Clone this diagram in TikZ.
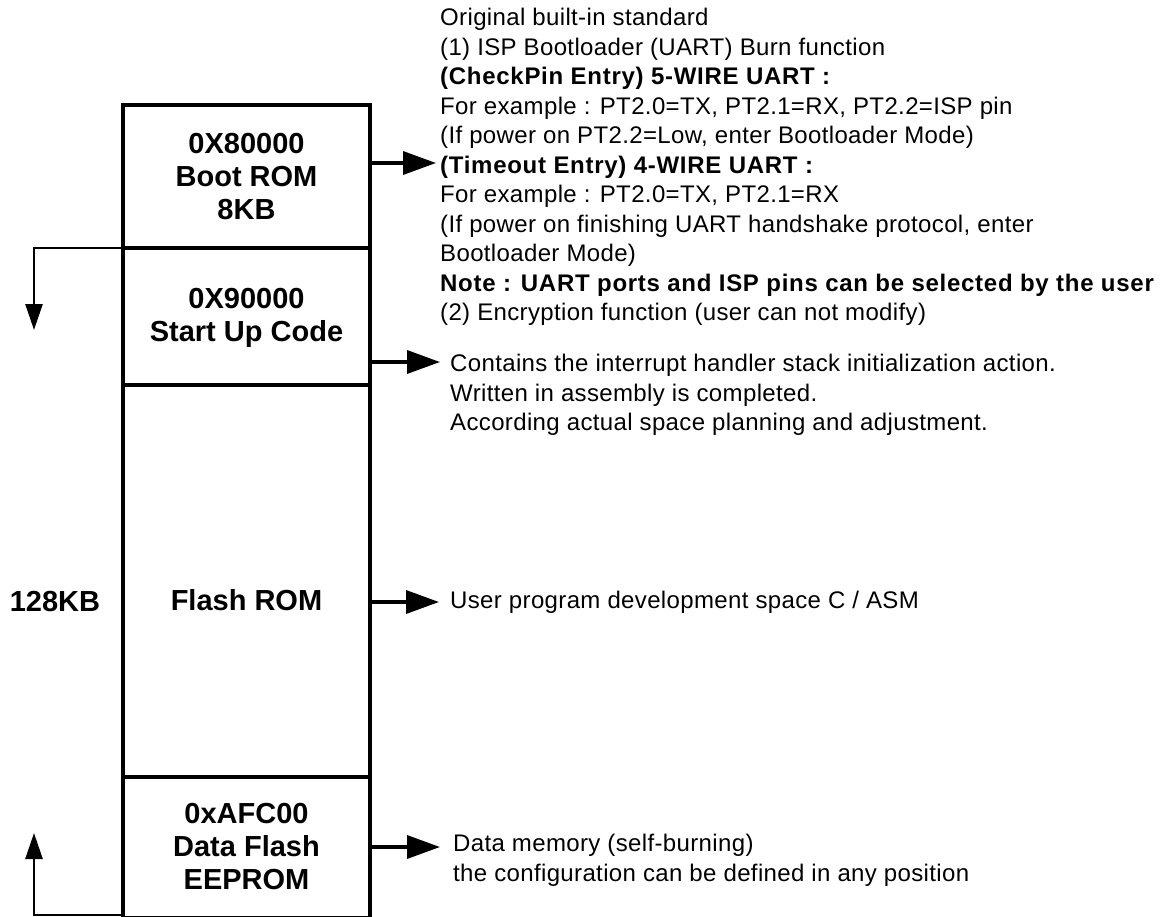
\documentclass[tikz,border=0pt]{standalone}
\usepackage{fontspec}
\setmainfont{Liberation Sans}
\usetikzlibrary{arrows.meta}
\newcommand{\keyline}[1]{{\bfseries\addfontfeature{LetterSpace=3}#1}}

\begin{document}
\begin{tikzpicture}[x=1pt,y=-1pt,
    seg/.style={draw,line width=3.5pt,minimum width=247pt,inner sep=0pt,outer sep=0pt},
    boxtxt/.style={font=\fontsize{29}{33}\selectfont\bfseries,align=center},
    note/.style={font=\fontsize{24}{29.5}\selectfont\addfontfeature{LetterSpace=1.5},align=left,inner sep=0pt},
    ptr/.style={line width=3.5pt,-{Triangle[length=33pt,width=23pt]}},
    back/.style={line width=2.6pt,-{Triangle[length=26pt,width=17pt]}}]
    \useasboundingbox (0,0) rectangle (1161,916);

    % memory segments
    \node[seg,minimum height=143pt] (boot) at (246.5,176.5) {};
    \node[seg,minimum height=137pt] (startup) at (246.5,316.5) {};
    \node[seg,minimum height=392pt] (flash) at (246.5,581) {};
    \node[seg,minimum height=141pt] (data) at (246.5,847.5) {};

    \node[boxtxt] (boottxt) at (246.5,177) {0X80000\\Boot ROM\\8KB};
    \node[boxtxt] (starttxt) at (246.5,318) {0X90000\\Start Up Code};
    \node[boxtxt] (flashtxt) at (246.5,600) {Flash ROM};
    \node[boxtxt] (datatxt) at (246.5,847) {0xAFC00\\Data Flash\\EEPROM};
    \node[boxtxt] (size) at (55,602) {128KB};

    % descriptions
    \node[note,anchor=north west] (bootnote) at (440,8) {Original built-in standard\\
        (1) ISP Bootloader (UART) Burn function\\
        \keyline{(CheckPin Entry) 5-WIRE UART :}\\
        For example : PT2.0=TX, PT2.1=RX, PT2.2=ISP pin\\
        (If power on PT2.2=Low, enter Bootloader Mode)\\
        \keyline{(Timeout Entry) 4-WIRE UART :}\\
        For example : PT2.0=TX, PT2.1=RX\\
        (If power on finishing UART handshake protocol, enter\\
        Bootloader Mode)\\
        \keyline{Note : UART ports and ISP pins can be selected by the user}\\
        (2) Encryption function (user can not modify)};
    \node[note,anchor=north west] (startnote) at (450,354) {Contains the interrupt handler stack initialization action.\\
        Written in assembly is completed.\\
        According actual space planning and adjustment.};
    \node[note,anchor=west] (flashnote) at (450,602) {User program development space C / ASM};
    \node[note,anchor=north west] (datanote) at (453,834) {Data memory (self-burning)\\
        the configuration can be defined in any position};

    \coordinate (bootin) at (436,163);
    \coordinate (startin) at (440,362);
    \coordinate (flashin) at (439,602);
    \coordinate (datain) at (440,847);
    \coordinate (upend) at (34,330);
    \coordinate (downend) at (34,833);
    \coordinate (floor) at (0,915);

    \draw[ptr] (bootin -| boot.east) -- (bootin);
    \draw[ptr] (startin -| startup.east) -- (startin);
    \draw[ptr] (flashin -| flash.east) -- (flashin);
    \draw[ptr] (datain -| data.east) -- (datain);

    \draw[back] (startup.north west) -| (upend);
    \draw[back] (floor -| data.west) -| (downend);
\end{tikzpicture}
\end{document}
